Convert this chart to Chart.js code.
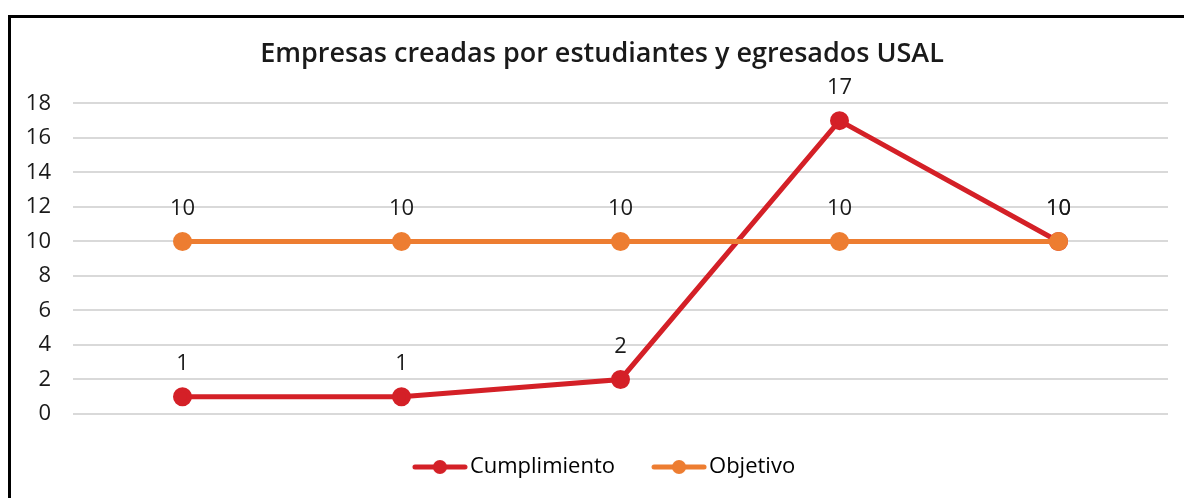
<!DOCTYPE html>
<html>
<head>
<meta charset="utf-8">
<script src="https://cdn.jsdelivr.net/npm/chart.js@4"></script>
<style>
  html, body { margin: 0; padding: 0; background: #fff; overflow: hidden; }
  #frame {
    position: absolute; left: 8px; top: 15px;
    width: 1300px; height: 600px;
    border: 3px solid #000; box-sizing: border-box;
  }
  #wrap { position: absolute; left: 0; top: 0; width: 1220px; height: 498px; }
</style>
</head>
<body>
<div id="frame"></div>
<div id="wrap"><canvas id="chart" width="1220" height="498"></canvas></div>
<script>
// datos
const categories = ['', '', '', '', ''];
const cumplimiento = [1, 1, 2, 17, 10];
const objetivo = [10, 10, 10, 10, 10];
const yTicks = [0, 2, 4, 6, 8, 10, 12, 14, 16, 18];

const RED = '#D42027';
const ORANGE = '#ED7D31';
const FONT = "'Open Sans', sans-serif";

// marcador de leyenda: linea con punto en medio (desplazado para acercar el texto)
function legendMarker(color) {
    const c = document.createElement('canvas');
    c.width = 68; c.height = 16;
    const g = c.getContext('2d');
    g.strokeStyle = color;
    g.lineWidth = 5;
    g.lineCap = 'round';
    g.beginPath(); g.moveTo(15, 8); g.lineTo(65, 8); g.stroke();
    g.fillStyle = color;
    g.beginPath(); g.arc(40, 8, 7, 0, Math.PI * 2); g.fill();
    return c;
}

// etiquetas de valor encima de cada punto
const valueLabels = {
    id: 'valueLabels',
    afterDatasetsDraw(chart) {
        const ctx = chart.ctx;
        ctx.save();
        ctx.font = "22px " + FONT;
        ctx.fillStyle = '#1a1a1a';
        ctx.textAlign = 'center';
        ctx.textBaseline = 'middle';
        chart.data.datasets.forEach((ds, i) => {
            chart.getDatasetMeta(i).data.forEach((pt, j) => {
                ctx.fillText(String(ds.data[j]), pt.x, pt.y - 33);
            });
        });
        ctx.restore();
    }
};

new Chart(document.getElementById('chart'), {
    type: 'line',
    data: {
        labels: categories,
        datasets: [
            {
                label: 'Cumplimiento',
                data: cumplimiento,
                borderColor: RED,
                backgroundColor: RED,
                borderWidth: 5,
                pointRadius: 7,
                pointHoverRadius: 7,
                tension: 0,
                order: 1
            },
            {
                label: 'Objetivo',
                data: objetivo,
                borderColor: ORANGE,
                backgroundColor: ORANGE,
                borderWidth: 5,
                pointRadius: 7,
                pointHoverRadius: 7,
                tension: 0,
                order: 0
            }
        ]
    },
    options: {
        responsive: false,
        animation: false,
        events: [],
        layout: { padding: { left: 0, right: 16, top: 0, bottom: 10 } },
        scales: {
            x: {
                offset: true,
                ticks: { display: false },
                grid: { display: false },
                border: { display: false },
                afterFit: s => { s.height = 9; }
            },
            y: {
                min: 0,
                max: 18,
                afterBuildTicks: s => { s.ticks = yTicks.map(v => ({ value: v })); },
                ticks: {
                    padding: 22,
                    color: '#1a1a1a',
                    font: { family: FONT, size: 22 }
                },
                grid: { color: '#d9d9d9', lineWidth: 2, drawTicks: false },
                border: { display: false },
                afterFit: s => { s.width = 73; }
            },
            // eje vacio a la derecha: solo reserva espacio
            yRight: {
                position: 'right',
                min: 0,
                max: 18,
                ticks: { display: false },
                grid: { display: false },
                border: { display: false },
                afterFit: s => { s.width = 36; }
            }
        },
        plugins: {
            title: {
                display: true,
                text: 'Empresas creadas por estudiantes y egresados USAL',
                color: '#1a1a1a',
                font: { family: FONT, size: 27, weight: '600' },
                padding: { top: 38, bottom: 33 }
            },
            legend: {
                position: 'bottom',
                labels: {
                    usePointStyle: true,
                    pointStyleWidth: 50,
                    padding: 33,
                    color: '#1a1a1a',
                    font: { family: FONT, size: 22 },
                    generateLabels: chart => chart.data.datasets.map((ds, i) => ({
                        text: ds.label,
                        pointStyle: legendMarker(ds.borderColor),
                        fillStyle: ds.borderColor,
                        strokeStyle: ds.borderColor,
                        lineWidth: 0,
                        hidden: false,
                        datasetIndex: i
                    }))
                }
            },
            tooltip: { enabled: false }
        }
    },
    plugins: [valueLabels]
});
</script>
</body>
</html>
